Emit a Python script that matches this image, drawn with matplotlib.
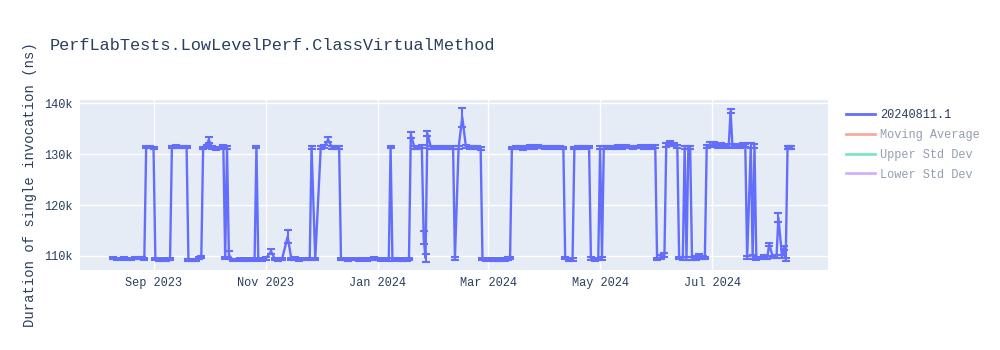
import matplotlib
matplotlib.use('Agg')
import numpy as np
import matplotlib.pyplot as plt
import matplotlib.dates as mdates
from matplotlib.lines import Line2D

# cores no estilo plotly
linecor = '#636efa'
fundo = '#e5ecf6'
textocor = '#2a3f5f'
fonte = ['Liberation Mono', 'DejaVu Sans Mono']

titulo = 'PerfLabTests.LowLevelPerf.ClassVirtualMethod'
ylabel = 'Duration of single invocation (ns)'
nomes = ['20240811.1', 'Moving Average', 'Upper Std Dev', 'Lower Std Dev']
cores = [linecor, '#ef553b', '#00cc96', '#ab63fa']

xticks = ['2023-09-01', '2023-11-01', '2024-01-01', '2024-03-01', '2024-05-01', '2024-07-01']
yticks = [110000, 120000, 130000, 140000]
yticklabels = ['110k', '120k', '130k', '140k']

datas = [
    '2023-08-10', '2023-08-12', '2023-08-14', '2023-08-16', '2023-08-18', '2023-08-20',
    '2023-08-22', '2023-08-24', '2023-08-26', '2023-08-27',
    '2023-08-28', '2023-08-30', '2023-09-01',
    '2023-09-02', '2023-09-04', '2023-09-06', '2023-09-08', '2023-09-10',
    '2023-09-11', '2023-09-13', '2023-09-15', '2023-09-17', '2023-09-19',
    '2023-09-20', '2023-09-22', '2023-09-24', '2023-09-26', '2023-09-27',
    '2023-09-28', '2023-09-30', '2023-10-01', '2023-10-03', '2023-10-05', '2023-10-07',
    '2023-10-09', '2023-10-10', '2023-10-11', '2023-10-12',
    '2023-10-14', '2023-10-16', '2023-10-18', '2023-10-20', '2023-10-22', '2023-10-24',
    '2023-10-26', '2023-10-27', '2023-10-28', '2023-10-30', '2023-11-01', '2023-11-04',
    '2023-11-06', '2023-11-08', '2023-11-10', '2023-11-13', '2023-11-15', '2023-11-17',
    '2023-11-19', '2023-11-21', '2023-11-23', '2023-11-25',
    '2023-11-26', '2023-11-28', '2023-12-01', '2023-12-03', '2023-12-05', '2023-12-07',
    '2023-12-09', '2023-12-11',
    '2023-12-12', '2023-12-14', '2023-12-16', '2023-12-18', '2023-12-20', '2023-12-22',
    '2023-12-24', '2023-12-26', '2023-12-28', '2023-12-30', '2024-01-01', '2024-01-03',
    '2024-01-05', '2024-01-07', '2024-01-08', '2024-01-09', '2024-01-11', '2024-01-13',
    '2024-01-15', '2024-01-17', '2024-01-18',
    '2024-01-19', '2024-01-21', '2024-01-23', '2024-01-25', '2024-01-26', '2024-01-27',
    '2024-01-28', '2024-01-30', '2024-02-01', '2024-02-03', '2024-02-05', '2024-02-07',
    '2024-02-09', '2024-02-11', '2024-02-12', '2024-02-14', '2024-02-16', '2024-02-18',
    '2024-02-20', '2024-02-22', '2024-02-24', '2024-02-26',
    '2024-02-27', '2024-02-29', '2024-03-02', '2024-03-04', '2024-03-06', '2024-03-08',
    '2024-03-10', '2024-03-12', '2024-03-13',
    '2024-03-14', '2024-03-16', '2024-03-18', '2024-03-20', '2024-03-22', '2024-03-24',
    '2024-03-26', '2024-03-28', '2024-03-30', '2024-04-01', '2024-04-03', '2024-04-05',
    '2024-04-07', '2024-04-09', '2024-04-11',
    '2024-04-12', '2024-04-14', '2024-04-16',
    '2024-04-17', '2024-04-19', '2024-04-21', '2024-04-23', '2024-04-25',
    '2024-04-26', '2024-04-28', '2024-04-30', '2024-05-01', '2024-05-02', '2024-05-03',
    '2024-05-05', '2024-05-07', '2024-05-09', '2024-05-11', '2024-05-13', '2024-05-15',
    '2024-05-17', '2024-05-19', '2024-05-21', '2024-05-23', '2024-05-25', '2024-05-27',
    '2024-05-29', '2024-05-31',
    '2024-06-01', '2024-06-03', '2024-06-05',
    '2024-06-06', '2024-06-08', '2024-06-10', '2024-06-12',
    '2024-06-13', '2024-06-15', '2024-06-16', '2024-06-17', '2024-06-18', '2024-06-19',
    '2024-06-20', '2024-06-22', '2024-06-24', '2024-06-26', '2024-06-27',
    '2024-06-28', '2024-06-30', '2024-07-02', '2024-07-04', '2024-07-06', '2024-07-08',
    '2024-07-10', '2024-07-11', '2024-07-12', '2024-07-14', '2024-07-16', '2024-07-18',
    '2024-07-19',
    '2024-07-20', '2024-07-22', '2024-07-23', '2024-07-24', '2024-07-25', '2024-07-27',
    '2024-07-29', '2024-07-31', '2024-08-01', '2024-08-03', '2024-08-05', '2024-08-06',
    '2024-08-08', '2024-08-09', '2024-08-10', '2024-08-11', '2024-08-12', '2024-08-13',
]

valores = [
    109600, 109500, 109450, 109550, 109400, 109500,
    109600, 109550, 109650, 109500,
    131300, 131350, 131250,
    109400, 109300, 109200, 109350, 109450,
    131300, 131450, 131400, 131350, 131300,
    109300, 109200, 109250, 109600, 109800,
    131200, 131500, 132800, 131300, 131100, 131200,
    131400, 109600, 131300, 110200,
    109300, 109200, 109500, 109300, 109200, 109400,
    109300, 131300, 109400, 109300, 109500, 110900,
    109400, 109300, 109500, 113800, 109400, 109500,
    109300, 109400, 109500, 109400,
    131300, 109400, 131300, 131400, 132850, 131300,
    131200, 131300,
    109500, 109400, 109300, 109400, 109500, 109300,
    109400, 109300, 109400, 109500, 109400, 109300,
    109400, 109300, 131300, 109300, 109400, 109300,
    109200, 109300, 109400,
    133800, 131300, 131200, 131400, 113600, 109600,
    134050, 131300, 131200, 131300, 131400, 131300,
    131200, 131300, 109500, 131300, 137200, 131400,
    131300, 131200, 131300, 131100,
    109400, 109300, 109200, 109300, 109200, 109400,
    109300, 109500, 109600,
    131200, 131300, 131400, 131100, 131300, 131400,
    131300, 131500, 131400, 131300, 131400, 131300,
    131400, 131300, 131200,
    109600, 109400, 109300,
    131200, 131300, 131400, 131300, 131400,
    109500, 109400, 109400, 131300, 109500, 131300,
    131400, 131300, 131200, 131400, 131300, 131500,
    131400, 131300, 131400, 131500, 131300, 131400,
    131300, 131400,
    109400, 109800, 110200,
    131800, 132200, 131900, 131500,
    109600, 109500, 131300, 109500, 131300, 131200,
    109500, 109600, 110000, 109700, 109600,
    131500, 131800, 132000, 131600, 131800, 131500,
    131700, 138400, 131600, 131700, 131500, 131800,
    131600,
    109700, 131600, 109800, 131500, 109500, 109600,
    109800, 109700, 112300, 109800, 109900, 117500,
    109900, 111500, 109400, 131300, 131400, 131300,
]

erros = [
    150, 200, 150, 200, 150, 200,
    150, 200, 150, 200,
    200, 250, 200,
    200, 250, 200, 250, 200,
    200, 250, 200, 250, 200,
    200, 250, 200, 250, 200,
    250, 300, 600, 250, 300, 250,
    300, 250, 300, 700,
    200, 250, 200, 250, 200, 250,
    200, 200, 250, 200, 250, 500,
    200, 250, 200, 1250, 200, 250,
    200, 250, 200, 250,
    250, 200, 250, 300, 550, 250,
    300, 250,
    200, 250, 200, 250, 200, 250,
    200, 250, 200, 250, 200, 250,
    200, 250, 200, 250, 200, 250,
    200, 250, 200,
    600, 300, 250, 300, 1300, 800,
    550, 300, 250, 300, 250, 300,
    250, 300, 300, 300, 1800, 300,
    250, 300, 250, 300,
    250, 300, 250, 300, 250, 300,
    250, 300, 250,
    250, 300, 250, 300, 250, 300,
    250, 300, 250, 300, 250, 300,
    250, 300, 250,
    250, 300, 250,
    250, 300, 250, 300, 250,
    250, 300, 250, 300, 250, 300,
    250, 300, 250, 300, 250, 300,
    250, 300, 250, 300, 250, 300,
    250, 300,
    250, 300, 400,
    400, 400, 350, 300,
    250, 300, 250, 300, 250, 300,
    250, 300, 400, 300, 250,
    300, 500, 400, 350, 400, 300,
    350, 400, 350, 300, 350, 300,
    300,
    300, 500, 300, 400, 300, 250,
    300, 250, 300, 250, 300, 850,
    300, 400, 300, 300, 250, 300,
]

datas = np.array(datas, dtype='datetime64[D]')
xticks = np.array(xticks, dtype='datetime64[D]')

plt.rcParams['font.family'] = fonte

fig = plt.figure(figsize=(10, 3.5), dpi=100)
ax = fig.add_axes([0.08, 80 / 350, 0.748, 170 / 350])
ax.set_facecolor(fundo)

ax.errorbar(datas, valores, yerr=erros, fmt='-', color=linecor, linewidth=1.7,
            elinewidth=1.5, capsize=3, capthick=1.5, zorder=3)

ax.set_xlim(np.datetime64('2023-07-23'), np.datetime64('2024-09-02'))
ax.set_ylim(107250, 140600)

ax.set_xticks(xticks)
ax.xaxis.set_major_formatter(mdates.DateFormatter('%b %Y'))
ax.set_yticks(yticks)
ax.set_yticklabels(yticklabels)
ax.tick_params(length=0, labelsize=8.6, colors=textocor, pad=5)
ax.grid(True, color='white', linewidth=1)
ax.set_axisbelow(True)
for s in ax.spines.values():
    s.set_visible(False)

fig.text(0.05, 1 - 45 / 350, titulo, fontsize=12.2, color=textocor, va='center')
fig.text(0.03, 1 - 185 / 350, ylabel, fontsize=10, color=textocor,
         rotation=90, va='center', ha='center')

# legenda, as tres ultimas ficam apagadas (legendonly)
handles = []
for i, (n, c) in enumerate(zip(nomes, cores)):
    a = 1.0 if i == 0 else 0.5
    handles.append(Line2D([], [], color=c, linewidth=2, alpha=a, label=n))
leg = fig.legend(handles=handles, loc='upper left', bbox_to_anchor=(0.846, 1 - 109 / 350),
                 frameon=False, fontsize=8.6, handlelength=2.4, handletextpad=0.45,
                 labelspacing=0.66, borderaxespad=0, borderpad=0)
for i, t in enumerate(leg.get_texts()):
    t.set_color(textocor)
    if i > 0:
        t.set_alpha(0.5)

plt.savefig('out.png', dpi=100)
